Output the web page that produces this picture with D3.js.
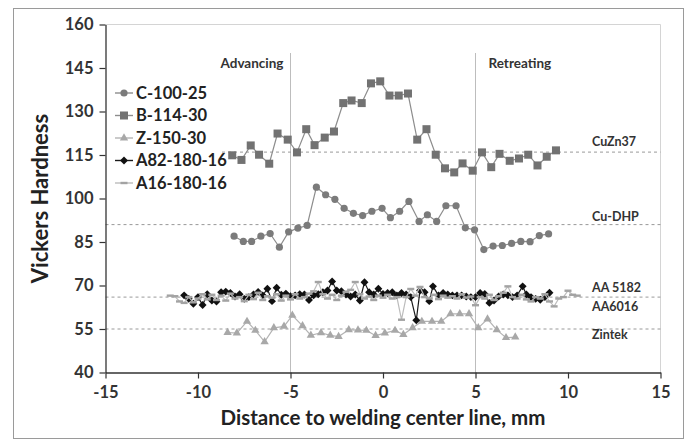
<!DOCTYPE html>
<html>
<head>
<meta charset="utf-8">
<script src="https://cdn.jsdelivr.net/npm/d3@7"></script>
<style>
  body { margin: 0; background: #fff; }
  svg text { font-family: Lato, "Open Sans", sans-serif; font-weight: 700; }
</style>
</head>
<body>
<svg id="chart" width="689" height="446"></svg>
<script>
// series values: [distance mm, hardness HV]
const c100 = [[-8.05,87.0],[-7.55,85.2],[-7.1,85.2],[-6.6,87.0],[-6.1,87.9],[-5.6,83.2],[-5.1,88.5],[-4.6,89.8],[-4.1,90.7],[-3.6,103.9],[-3.1,101.3],[-2.6,99.7],[-2.1,96.6],[-1.6,94.9],[-1.1,94.1],[-0.6,95.6],[-0.05,96.6],[0.4,93.4],[0.9,95.6],[1.4,99.0],[1.95,92.1],[2.4,94.4],[2.9,92.1],[3.4,97.5],[3.95,97.5],[4.45,89.9],[4.95,89.2],[5.45,82.4],[5.95,83.6],[6.45,83.8],[6.95,84.5],[7.45,85.2],[7.95,85.1],[8.45,87.2],[8.95,87.8]];
const b114 = [[-8.15,114.9],[-7.65,113.3],[-7.15,118.3],[-6.7,115.1],[-6.15,112.0],[-5.7,122.4],[-5.15,120.3],[-4.65,115.9],[-4.15,123.9],[-3.7,118.4],[-3.15,121.0],[-2.65,123.1],[-2.15,132.9],[-1.7,133.8],[-1.15,132.9],[-0.65,139.7],[-0.15,140.4],[0.35,135.5],[0.85,135.5],[1.35,136.2],[1.85,120.3],[2.35,123.9],[2.85,115.1],[3.35,110.4],[3.85,109.0],[4.3,112.1],[4.85,109.6],[5.35,115.9],[5.85,110.8],[6.3,115.4],[6.85,113.0],[7.35,113.8],[7.85,115.1],[8.35,111.4],[8.85,114.4],[9.35,116.6]];
const z150 = [[-8.4,53.8],[-7.9,53.6],[-7.35,57.6],[-6.9,54.5],[-6.4,50.6],[-5.9,55.4],[-5.35,55.9],[-4.9,59.7],[-4.35,56.1],[-3.9,52.8],[-3.35,53.7],[-2.85,52.8],[-2.4,52.4],[-1.85,54.7],[-1.35,54.6],[-0.9,54.5],[-0.4,52.7],[0.1,53.6],[0.65,54.5],[1.1,53.1],[1.6,55.4],[2.1,57.6],[2.65,57.6],[3.15,57.6],[3.65,60.2],[4.15,60.2],[4.65,60.2],[5.15,55.4],[5.65,58.4],[6.15,54.7],[6.65,52.0],[7.15,52.2]];
const a82 = [[-10.75,66.6],[-10.5,65.4],[-10.25,63.7],[-10,66.0],[-9.75,63.3],[-9.5,67.0],[-9.25,64.8],[-9,64.5],[-8.75,67.7],[-8.5,67.9],[-8.25,67.4],[-8,66.2],[-7.75,67.0],[-7.5,65.4],[-7.25,66.0],[-7,66.9],[-6.75,67.8],[-6.5,66.6],[-6.25,68.9],[-6,64.6],[-5.75,69.2],[-5.5,66.8],[-5.25,67.2],[-5,66.3],[-4.75,66.6],[-4.5,67.0],[-4.25,66.9],[-4,65.0],[-3.75,66.6],[-3.5,67.0],[-3.25,67.7],[-3,68.3],[-2.75,71.4],[-2.5,68.3],[-2.25,68.0],[-2,66.9],[-1.75,66.2],[-1.5,66.9],[-1.25,64.8],[-1,71.1],[-0.75,67.7],[-0.5,66.9],[-0.25,68.9],[0,67.1],[0.25,67.4],[0.5,67.7],[0.75,66.6],[1,67.4],[1.25,66.9],[1.5,66.0],[1.8,58.0],[2,68.3],[2.25,67.7],[2.5,64.6],[2.7,69.7],[3,66.6],[3.25,67.4],[3.5,66.9],[3.75,66.6],[4,66.6],[4.25,66.6],[4.5,66.2],[4.75,66.0],[5,66.0],[5.25,67.4],[5.5,67.1],[5.75,64.0],[6,64.8],[6.25,66.2],[6.5,66.9],[6.75,66.6],[7,66.0],[7.25,66.6],[7.55,69.7],[7.75,66.9],[8,66.0],[8.25,65.4],[8.5,65.1],[8.75,66.0],[9,67.5]];
const a16 = [[-11.5,66.5],[-11.25,66.3],[-11,64.5],[-10.75,64.0],[-10.5,66.0],[-10.25,64.2],[-10,65.5],[-9.75,67.0],[-9.5,65.2],[-9.25,66.8],[-9,65.0],[-8.75,66.5],[-8.5,64.8],[-8.25,67.2],[-8,65.5],[-7.75,66.0],[-7.5,64.6],[-7.25,66.8],[-7,65.3],[-6.75,67.5],[-6.5,65.0],[-6.25,66.3],[-6,65.8],[-5.75,67.0],[-5.5,64.8],[-5.25,66.5],[-5,65.2],[-4.75,67.0],[-4.5,65.5],[-4.25,66.0],[-4,67.2],[-3.75,68.0],[-3.5,71.2],[-3.25,67.0],[-3,65.5],[-2.75,66.8],[-2.5,65.0],[-2.25,66.5],[-2,67.8],[-1.75,68.5],[-1.5,71.2],[-1.25,67.0],[-1,65.5],[-0.75,66.2],[-0.5,65.0],[-0.25,66.5],[0,65.8],[0.25,66.8],[0.5,65.5],[0.75,66.0],[1,58.2],[1.25,66.0],[1.5,68.8],[1.75,66.5],[2,69.5],[2.25,66.0],[2.5,65.5],[2.75,66.8],[3,65.3],[3.25,66.5],[3.5,65.8],[3.75,66.3],[4,65.5],[4.25,67.0],[4.5,65.8],[4.75,66.2],[5,63.2],[5.25,66.0],[5.5,65.5],[5.75,66.8],[6,65.0],[6.25,66.3],[6.5,67.5],[6.75,69.7],[7,66.0],[7.25,65.5],[7.5,66.8],[7.75,65.2],[8,64.5],[8.25,66.0],[8.5,65.5],[8.75,67.0],[9,64.5],[9.25,62.8],[9.5,65.5],[9.75,66.0],[10,68.2],[10.25,66.8],[10.5,66.5]];

const seriesNames = ["C-100-25", "B-114-30", "Z-150-30", "A82-180-16", "A16-180-16"];
const xTicks = [-15, -10, -5, 0, 5, 10, 15];
const yTicks = [40, 55, 70, 85, 100, 115, 130, 145, 160];
const zoneLines = [-5, 5];
const zoneLabels = ["Advancing", "Retreating"];
const refNames = ["CuZn37", "Cu-DHP", "AA 5182", "AA6016", "Zintek"];
const refValues = [116, 91, 66, 66, 55];

const svg = d3.select("#chart");

// outer frame
svg.append("rect")
  .attr("x", 13.5).attr("y", 8.5)
  .attr("width", 670).attr("height", 430)
  .style("fill", "none")
  .style("stroke", "#9a9a9a");

const x = d3.scaleLinear().domain([-15, 15]).range([105.5, 660.5]);
const y = d3.scaleLinear().domain([40, 160]).range([372.5, 24.5]);

// plot area border (top, right)
svg.append("path")
  .attr("d", `M${x(-15)},${y(160)}H${x(15)}V${y(40)}`)
  .style("fill", "none")
  .style("stroke", "#d4d4d4");

// advancing / retreating separators
svg.selectAll(".zone")
  .data(zoneLines)
  .join("line")
  .attr("class", "zone")
  .attr("x1", d => x(d)).attr("x2", d => x(d))
  .attr("y1", 53).attr("y2", y(40))
  .style("stroke", "#bdbdbd");

svg.selectAll(".zone-label")
  .data(zoneLabels)
  .join("text")
  .attr("class", "zone-label")
  .attr("x", (d, i) => i === 0 ? x(-5) - 7 : x(5) + 13)
  .attr("y", 68)
  .attr("text-anchor", (d, i) => i === 0 ? "end" : "start")
  .style("font-size", "13.5px")
  .style("fill", "#333")
  .text(d => d);

// material reference lines
svg.selectAll(".ref")
  .data([0, 1, 2, 4])
  .join("line")
  .attr("class", "ref")
  .attr("x1", i => i === 0 ? 222 : x(-15))
  .attr("x2", x(15))
  .attr("y1", i => y(refValues[i])).attr("y2", i => y(refValues[i]))
  .style("stroke", "#999")
  .style("stroke-dasharray", "3,3");

const refLabelY = [146, 221, 292, 311, 339];
svg.selectAll(".ref-label")
  .data(refNames)
  .join("text")
  .attr("class", "ref-label")
  .attr("x", 592)
  .attr("y", (d, i) => refLabelY[i])
  .style("font-size", "12.5px")
  .style("fill", "#333")
  .text(d => d);

// axes
const fmt = d => String(d);
const xAxis = svg.append("g")
  .attr("transform", `translate(0,${y(40)})`)
  .call(d3.axisBottom(x).tickValues(xTicks).tickFormat(fmt).tickSize(6).tickSizeOuter(0));
const yAxis = svg.append("g")
  .attr("transform", `translate(${x(-15)},0)`)
  .call(d3.axisLeft(y).tickValues(yTicks).tickFormat(fmt).tickSize(6).tickSizeOuter(0));

[xAxis, yAxis].forEach(g => {
  g.select(".domain").style("stroke", "#333").style("stroke-width", 1.3);
  g.selectAll(".tick line").style("stroke", "#333").style("stroke-width", 1.2);
  g.selectAll(".tick text")
    .style("font-family", "Lato, sans-serif")
    .style("font-weight", 700)
    .style("font-size", "16.5px")
    .style("fill", "#333");
});
xAxis.selectAll(".tick text").attr("dy", "1.0em");
yAxis.selectAll(".tick text").attr("x", -12);

svg.append("text")
  .attr("x", x(0)).attr("y", 425)
  .attr("text-anchor", "middle")
  .style("font-size", "20.5px")
  .style("fill", "#222")
  .text("Distance to welding center line, mm");

svg.append("text")
  .attr("transform", `translate(48,${y(100)}) rotate(-90)`)
  .attr("text-anchor", "middle")
  .style("font-size", "22px")
  .style("fill", "#222")
  .text("Vickers Hardness");

// series
const styles = [
  { data: c100, line: "#8d8d8d", mark: "#7b7b7b", shape: "circle" },
  { data: b114, line: "#8d8d8d", mark: "#727272", shape: "square" },
  { data: z150, line: "#b3b3b3", mark: "#a8a8a8", shape: "triangle" },
  { data: a82,  line: "#1a1a1a", mark: "#111111", shape: "diamond" },
  { data: a16,  line: "#bcbcbc", mark: "#a3a3a3", shape: "dash" }
];

const lineGen = d3.line().x(d => x(d[0])).y(d => y(d[1]));

function drawMarker(g, shape, color) {
  if (shape === "circle") {
    g.append("circle").attr("r", 3.6).style("fill", color);
  } else if (shape === "square") {
    g.append("rect").attr("x", -4).attr("y", -4).attr("width", 8).attr("height", 8).style("fill", color);
  } else if (shape === "triangle") {
    g.append("path").attr("d", d3.symbol(d3.symbolTriangle, 30)()).style("fill", color);
  } else if (shape === "diamond") {
    g.append("rect").attr("x", -2.8).attr("y", -2.8).attr("width", 5.6).attr("height", 5.6)
      .attr("transform", "rotate(45)").style("fill", color);
  } else {
    g.append("rect").attr("x", -3.5).attr("y", -1.2).attr("width", 7).attr("height", 2.4).style("fill", color);
  }
}

styles.forEach(s => {
  const g = svg.append("g");
  g.append("path")
    .datum(s.data)
    .attr("d", lineGen)
    .style("fill", "none")
    .style("stroke", s.line)
    .style("stroke-width", 1.2);
  g.selectAll(".pt")
    .data(s.data)
    .join("g")
    .attr("class", "pt")
    .attr("transform", d => `translate(${x(d[0])},${y(d[1])})`)
    .each(function() { drawMarker(d3.select(this), s.shape, s.mark); });
});

// legend
const legend = svg.append("g").attr("transform", "translate(115,93)");
seriesNames.forEach((name, i) => {
  const row = legend.append("g").attr("transform", `translate(0,${i * 22.5})`);
  row.append("line")
    .attr("x1", 0).attr("x2", 18)
    .style("stroke", styles[i].line)
    .style("stroke-width", 1.4);
  drawMarker(row.append("g").attr("transform", "translate(9,0)"), styles[i].shape, styles[i].mark);
  row.append("text")
    .attr("x", 21).attr("y", 5.5)
    .style("font-size", "16.5px")
    .style("fill", "#222")
    .text(name);
});
</script>
</body>
</html>
